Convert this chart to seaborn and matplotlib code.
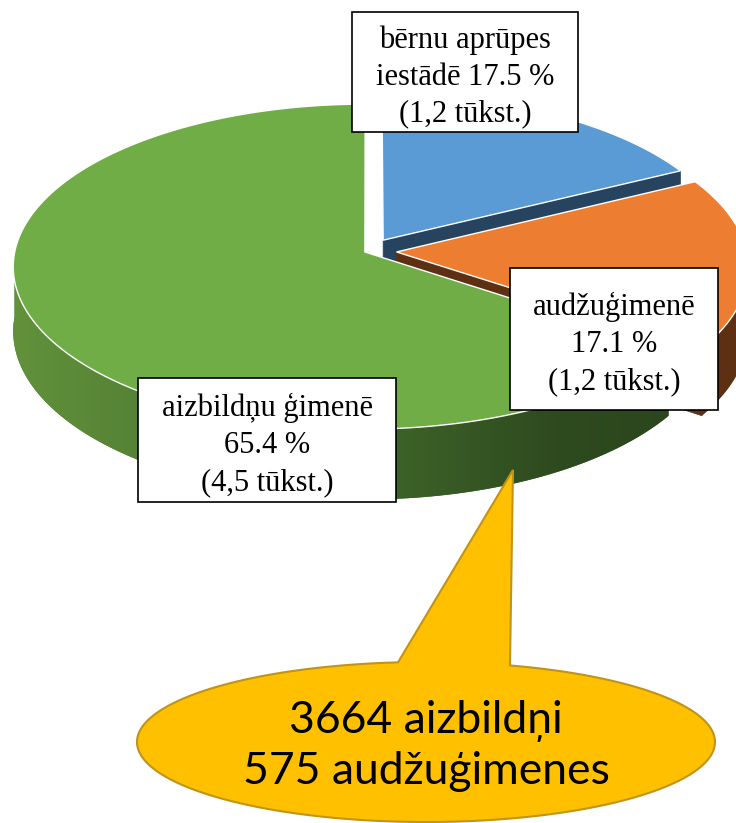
import numpy as np
import matplotlib.pyplot as plt
import seaborn as sns
import matplotlib.colors as mcolors
from matplotlib.patches import Polygon, Rectangle, PathPatch
from matplotlib.path import Path

sns.set_style("white")

# data
categories = ["bērnu aprūpes\niestādē", "audžuģimenē", "aizbildņu ģimenē"]
shares = [17.5, 17.1, 65.4]
thousands = ["1,2", "1,2", "4,5"]
guardians = 3664
foster_families = 575

top_colors = ["#5B9BD5", "#ED7D31", "#70AD47"]
side_colors = ["#26435F", "#5E3013", "#3E6A28"]
explode = [0.08, 0.08, 0.012]
label_sep = [" ", "\n", "\n"]
label_boxes = [(352, 12, 226, 120), (510, 268, 208, 142), (138, 378, 258, 124)]

fig = plt.figure(figsize=(7.36, 8.23), dpi=100)
ax = fig.add_axes([0, 0, 1, 1])

# 3d view: centre, radius, tilt, perspective, thickness
cx, cy, R, K, p, H = 368.6, 251.1, 350, 0.46, 0.09, 64


def proj(X, Z):
    w = 1 + p * Z
    return np.column_stack([cx + R * X / w, cy - R * K * Z / w]), H / w


# green side shading (light at the left, dark at the right)
shade_ang = np.radians([-180, -90, -60, -30])
shade_x = proj(np.cos(shade_ang), np.sin(shade_ang))[0][:, 0]
shade_cols = np.array([mcolors.to_rgb(c) for c in ["#61913B", "#3F6629", "#2E4A1F", "#2B461C"]])
gx = np.linspace(0, 736, 400)
grad = np.stack([np.interp(gx, shade_x, shade_cols[:, k]) for k in range(3)], axis=-1)[None, :, :]

start = 90.0
for i, share in enumerate(shares):
    span = share / sum(shares) * 360
    a0, a1 = start, start - span
    start = a1
    mid = np.radians((a0 + a1) / 2)
    ex, ez = explode[i] * np.cos(mid), explode[i] * np.sin(mid)
    th = np.linspace(a0, a1, 400)
    t = np.radians(th)
    pts, dep = proj(np.cos(t) + ex, np.sin(t) + ez)
    tip, tdep = proj(np.array([ex]), np.array([ez]))
    tip, tdep = tip[0], tdep[0]

    # radial walls facing the viewer
    for k, facing in ((0, np.cos(t[0]) < -1e-6), (-1, np.cos(t[-1]) > 1e-6)):
        if not facing:
            continue
        pk = pts[k]
        quad = [tip, pk, pk + [0, dep[k]], tip + [0, tdep]]
        ax.add_patch(Polygon(quad, closed=True, fc=side_colors[i], ec=side_colors[i], lw=0.5))

    # outer wall, front half
    front = np.sin(t) < 0
    if front.any():
        rim = pts[front]
        bot = rim + np.column_stack([np.zeros(front.sum()), dep[front]])
        wall = Polygon(np.vstack([rim, bot[::-1]]), closed=True,
                       fc=side_colors[i], ec="none", lw=0)
        ax.add_patch(wall)
        if i == 2:
            im = ax.imshow(grad, extent=(0, 736, 823, 0), aspect="auto",
                           interpolation="bilinear", zorder=wall.get_zorder())
            im.set_clip_path(wall)

    # top face
    ax.add_patch(Polygon(np.vstack([tip, pts]), closed=True,
                         fc=top_colors[i], ec="white", lw=1.0))

# data labels
for i, (x, y, w, h) in enumerate(label_boxes):
    ax.add_patch(Rectangle((x, y), w, h, fc="white", ec="black", lw=1.2))
    txt = f"{categories[i]}{label_sep[i]}{shares[i]:.1f} %\n({thousands[i]} tūkst.)"
    ax.text(x + w / 2, y + h / 2 + 5, txt, ha="center", va="center",
            family="Liberation Serif", fontsize=22, linespacing=1.35, color="black")

# callout bubble
ecx, ecy, ea, eb = 426, 742, 289, 80
tip_pt = (513, 470)
tl = np.degrees(np.arccos((398 - ecx) / ea))
tr = np.degrees(np.arccos((510 - ecx) / ea))
t = np.radians(np.linspace(tr, tl - 360, 400))
verts = np.column_stack([ecx + ea * np.cos(t), ecy - eb * np.sin(t)])
verts = np.vstack([verts, tip_pt, verts[0]])
codes = [Path.MOVETO] + [Path.LINETO] * (len(verts) - 2) + [Path.CLOSEPOLY]
ax.add_patch(PathPatch(Path(verts, codes), fc="#FFC000", ec="#C09418", lw=1.5))
ax.text(ecx, ecy + 4, f"{guardians} aizbildņi\n{foster_families} audžuģimenes",
        ha="center", va="center", family=["Lato", "DejaVu Sans"],
        fontsize=32, linespacing=1.3, color="black")

ax.set_xlim(0, 736)
ax.set_ylim(823, 0)
ax.axis("off")

fig.savefig("out.png", dpi=100)
